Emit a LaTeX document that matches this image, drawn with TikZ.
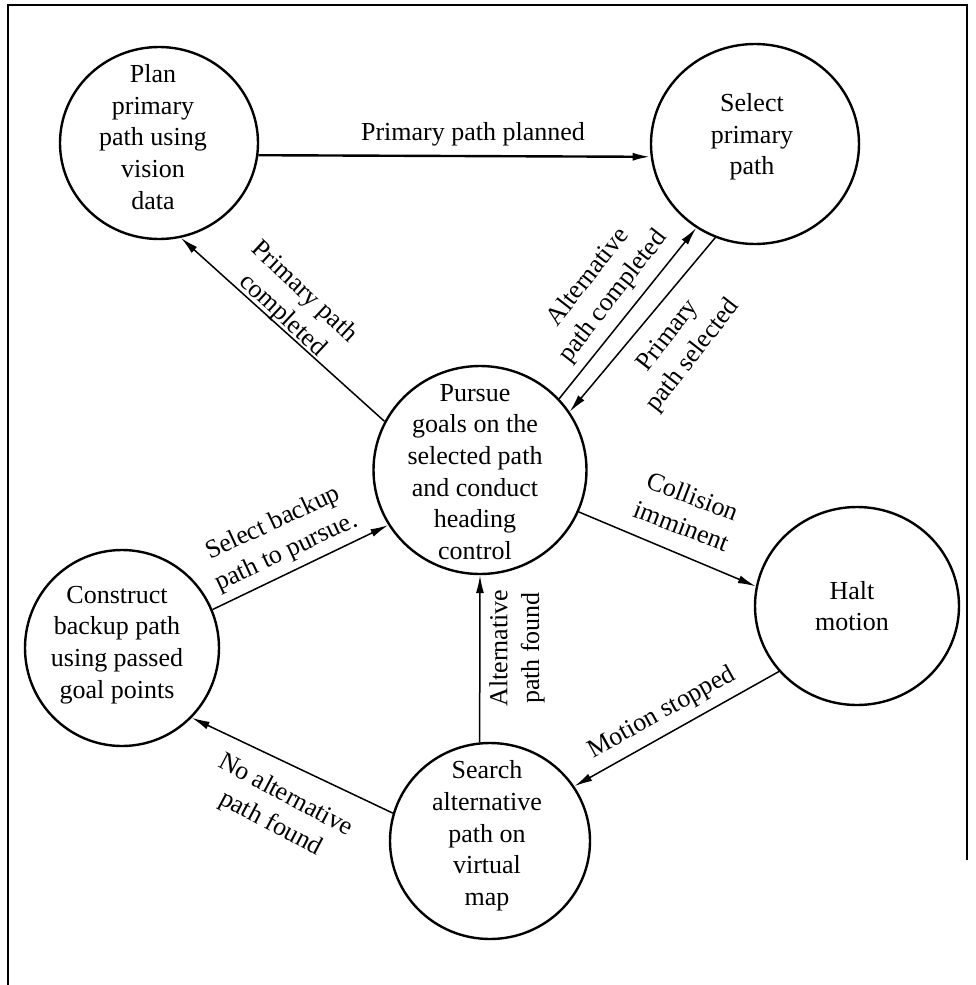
\documentclass[tikz,border=0pt]{standalone}
\usepackage{fontspec}
\setmainfont{Liberation Serif}
\usetikzlibrary{shapes.geometric,arrows.meta}
\tikzset{
  st/.style={ellipse, draw, line width=2.4pt, inner sep=0pt},
  txt/.style={align=center, inner sep=0pt, font=\fontsize{26}{31.7}\selectfont},
  lbl/.style={align=center, inner sep=0pt, font=\fontsize{26}{31.7}\selectfont},
  conn/.style={line width=1.5pt, -{Latex[length=18pt,width=8pt]}},
}
\begin{document}
\begin{tikzpicture}[x=1pt,y=-1pt]
\useasboundingbox (0,0) rectangle (975,985);
% frame
\draw[line width=1.3pt] (8,985) -- (8,5) -- (967,5) -- (967,860);
% states
\node[st, minimum width=198pt, minimum height=192pt] (plan) at (159,143) {};
\node[st, minimum width=208pt, minimum height=200pt] (select) at (755,144) {};
\node[st, minimum width=213pt, minimum height=208pt] (pursue) at (480,470) {};
\node[st, minimum width=204pt, minimum height=198pt] (halt) at (857,606) {};
\node[st, minimum width=194pt, minimum height=196pt] (constr) at (122,648) {};
\node[st, minimum width=200pt, minimum height=196pt] (search) at (490,841) {};
% state texts
\node[txt] (plantxt) at (153,137) {Plan\\primary\\path using\\vision\\data};
\node[txt] (selecttxt) at (752,137) {Select\\primary\\path};
\node[txt] (pursuetxt) at (475,472) {Pursue\\goals on the\\selected path\\and conduct\\heading\\control};
\node[txt] (halttxt) at (852,606) {Halt\\motion};
\node[txt] (constrtxt) at (117,645) {Construct\\backup path\\using passed\\goal points};
\node[txt] (searchtxt) at (487,836) {Search\\alternative\\path on\\virtual\\map};
% transitions
\draw[conn, line width=2.4pt] (plan.-7) -- (select.-173.7);
\draw[conn] (pursue.153.9) -- (plan.-77);
\draw[conn] (pursue.42.4) -- (select.-125.2);
\draw[conn] (select.-113) -- (pursue.33.3);
\draw[conn] (pursue.-23.9) -- (halt.169.4);
\draw[conn] (halt.-140) -- (search.33.5);
\draw[conn] (search.96.4) -- (pursue.-90.5);
\draw[conn] (search.164) -- (constr.-45.4);
\draw[conn] (constr.23.8) -- (pursue.-149);
% labels
\node[lbl] (l1) at (473,134) {Primary path planned};
\node[lbl, rotate=-43] (l2) at (293,304) {Primary path\\completed};
\node[lbl, rotate=52] (l3) at (601,287) {Alternative\\path completed};
\node[lbl, rotate=52] (l4) at (681,346) {Primary\\path selected};
\node[lbl, rotate=-21] (l5) at (687,511) {Collision\\imminent};
\node[lbl, rotate=29] (l6) at (662,713) {Motion stopped};
\node[lbl, rotate=90] (l7) at (517,648) {Alternative\\path found};
\node[lbl, rotate=-28] (l8) at (278,810) {No alternative\\path found};
\node[lbl, rotate=25] (l9) at (280,538) {Select backup\\path to pursue.};
\end{tikzpicture}
\end{document}
